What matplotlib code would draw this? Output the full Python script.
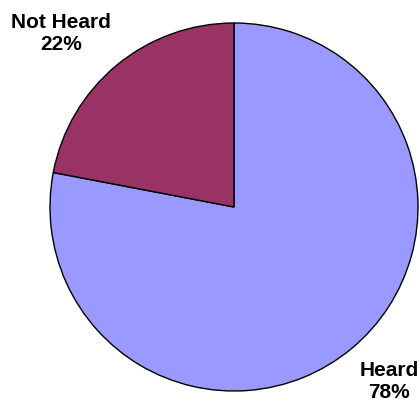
import matplotlib
matplotlib.use('Agg')
import matplotlib.pyplot as plt

labels = ['Heard', 'Not Heard']
shares = [78, 22]
colors = ['#9999FF', '#993366']

fig = plt.figure(figsize=(4.2, 4.08), dpi=100)
ax = fig.add_axes([0, 0, 1, 1])

wedges, _ = ax.pie(shares, colors=colors, startangle=90, counterclock=False,
                   center=(234, 201), radius=184, frame=True,
                   wedgeprops=dict(edgecolor='black', linewidth=1))
ax.set_xlim(0, 420)
ax.set_ylim(0, 408)
ax.axis('off')

# label positions (pixel coords, y up)
label_pos = [(389, 27), (61, 375)]
for lab, val, (x, y) in zip(labels, shares, label_pos):
    ax.text(x, y, '{}\n{}%'.format(lab, val), ha='center', va='center',
            fontsize=15, fontweight='bold', family='Liberation Sans',
            linespacing=1.2)

fig.savefig('out.png', dpi=100)
